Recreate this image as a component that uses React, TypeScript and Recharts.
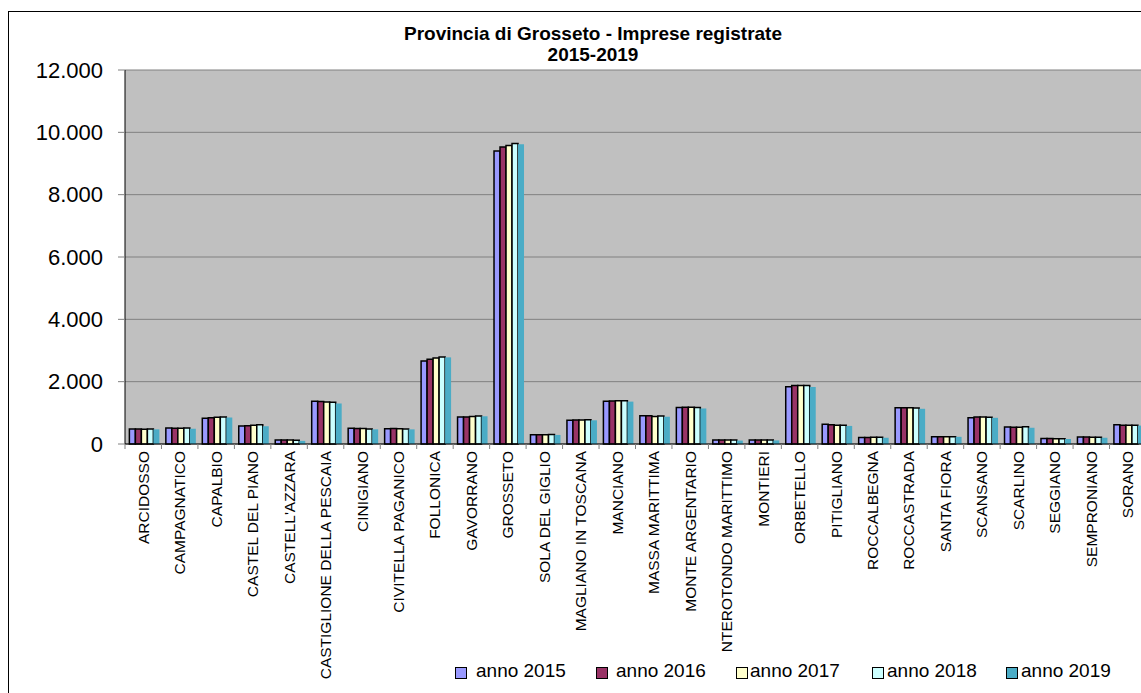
import { BarChart, Bar, XAxis, YAxis, CartesianGrid } from "recharts";

const categories = [
  "ARCIDOSSO",
  "CAMPAGNATICO",
  "CAPALBIO",
  "CASTEL DEL PIANO",
  "CASTELL'AZZARA",
  "CASTIGLIONE DELLA PESCAIA",
  "CINIGIANO",
  "CIVITELLA PAGANICO",
  "FOLLONICA",
  "GAVORRANO",
  "GROSSETO",
  "SOLA DEL GIGLIO",
  "MAGLIANO IN TOSCANA",
  "MANCIANO",
  "MASSA MARITTIMA",
  "MONTE ARGENTARIO",
  "NTEROTONDO MARITTIMO",
  "MONTIERI",
  "ORBETELLO",
  "PITIGLIANO",
  "ROCCALBEGNA",
  "ROCCASTRADA",
  "SANTA FIORA",
  "SCANSANO",
  "SCARLINO",
  "SEGGIANO",
  "SEMPRONIANO",
  "SORANO",
];

const anno2015 = [480, 510, 830, 580, 130, 1370, 505, 490, 2660, 870, 9400, 300, 760, 1370, 910, 1170, 130, 125, 1840, 630, 210, 1165, 235, 845, 545, 175, 222, 620];
const anno2016 = [478, 505, 840, 585, 130, 1365, 500, 495, 2720, 870, 9530, 300, 770, 1380, 905, 1180, 130, 125, 1875, 620, 210, 1160, 235, 865, 540, 175, 222, 605];
const anno2017 = [477, 505, 860, 600, 125, 1345, 495, 490, 2760, 880, 9580, 300, 770, 1385, 880, 1180, 125, 130, 1880, 600, 215, 1160, 235, 865, 540, 170, 218, 600];
const anno2018 = [478, 510, 865, 620, 120, 1340, 485, 485, 2790, 900, 9640, 305, 775, 1385, 900, 1175, 125, 130, 1880, 600, 215, 1155, 235, 860, 555, 172, 218, 600];
const anno2019 = [470, 490, 850, 570, 100, 1300, 470, 470, 2780, 890, 9620, 290, 760, 1360, 875, 1140, 110, 115, 1830, 580, 200, 1130, 230, 840, 520, 160, 200, 590];

const yTicks = [0, 2000, 4000, 6000, 8000, 10000, 12000];

const series = [
  { key: "a2015", name: "anno 2015", values: anno2015, color: "#9999FF", outline: true },
  { key: "a2016", name: "anno 2016", values: anno2016, color: "#993366", outline: true },
  { key: "a2017", name: "anno 2017", values: anno2017, color: "#FFFFCC", outline: true },
  { key: "a2018", name: "anno 2018", values: anno2018, color: "#CCFFFF", outline: true },
  { key: "a2019", name: "anno 2019", values: anno2019, color: "#4BACC6", outline: false },
];

const data = categories.map((name, i) => {
  const row: Record<string, string | number> = { name };
  series.forEach((s) => (row[s.key] = s.values[i]));
  return row;
});

const FONT = "'Liberation Sans', Arial, sans-serif";
const PLOT_W = 1021;
const HALF = PLOT_W / categories.length / 2;

// legend placement (square left, text left) in page pixels
const legendPos = [
  [455, 476],
  [596, 616],
  [736, 750],
  [872, 887],
  [1006, 1021],
];

const fmt = (v: number) => String(v).replace(/\B(?=(\d{3})+(?!\d))/g, ".");

const XTick = (props: any) => {
  const { x, y, payload } = props;
  return (
    <g>
      <line x1={x - HALF} x2={x - HALF} y1={y - 7} y2={y - 2} stroke="#808080" />
      <text
        x={x}
        y={y}
        transform={`rotate(-90 ${x} ${y})`}
        textAnchor="end"
        dominantBaseline="central"
        fontSize={15.5}
        fontFamily={FONT}
        fill="#000"
      >
        {payload.value}
      </text>
    </g>
  );
};

export default function App() {
  return (
    <div
      style={{
        position: "fixed",
        left: 8,
        top: 11,
        width: 1133,
        height: 682,
        overflow: "hidden",
        fontFamily: FONT,
      }}
    >
      <div
        style={{
          position: "absolute",
          left: 0,
          top: 0,
          width: 1160,
          height: 700,
          border: "1px solid #000",
          boxSizing: "border-box",
          background: "#fff",
        }}
      >
        <div
          style={{
            position: "absolute",
            left: 284,
            top: 11,
            width: 600,
            textAlign: "center",
            fontWeight: "bold",
            fontSize: 19,
            lineHeight: "21px",
            color: "#000",
          }}
        >
          Provincia di Grosseto - Imprese registrate
          <br />
          2015-2019
        </div>
        <BarChart
          width={1158}
          height={698}
          data={data}
          margin={{ top: 58, right: 21, left: 0, bottom: 16 }}
          barCategoryGap="12%"
          barGap={0}
        >
          <CartesianGrid
            vertical={false}
            stroke="#808080"
            fill="#C0C0C0"
            fillOpacity={1}
          />
          <XAxis
            dataKey="name"
            interval={0}
            height={250}
            tickLine={false}
            tickSize={0}
            tickMargin={7}
            axisLine={{ stroke: "#000" }}
            tick={<XTick />}
          />
          <YAxis
            width={116}
            domain={[0, 12000]}
            ticks={yTicks}
            tickFormatter={fmt}
            tickSize={7}
            tickMargin={15}
            tickLine={{ stroke: "#808080" }}
            axisLine={{ stroke: "#000" }}
            tick={{ fontSize: 22, fill: "#000", fontFamily: FONT }}
            interval={0}
          />
          {series.map((s) => (
            <Bar
              key={s.key}
              dataKey={s.key}
              name={s.name}
              fill={s.color}
              stroke={s.outline ? "#000" : "none"}
              strokeWidth={s.outline ? 1.5 : 0}
              isAnimationActive={false}
            />
          ))}
        </BarChart>
      </div>
      {series.map((s, i) => (
        <div key={s.key}>
          <div
            style={{
              position: "absolute",
              left: legendPos[i][0] - 8,
              top: 667 - 11,
              width: 10,
              height: 10,
              background: s.color,
              border: "1px solid #000",
            }}
          />
          <div
            style={{
              position: "absolute",
              left: legendPos[i][1] - 8,
              top: 660 - 11,
              fontSize: 19,
              lineHeight: "22px",
              color: "#000",
              whiteSpace: "nowrap",
            }}
          >
            {s.name}
          </div>
        </div>
      ))}
    </div>
  );
}
